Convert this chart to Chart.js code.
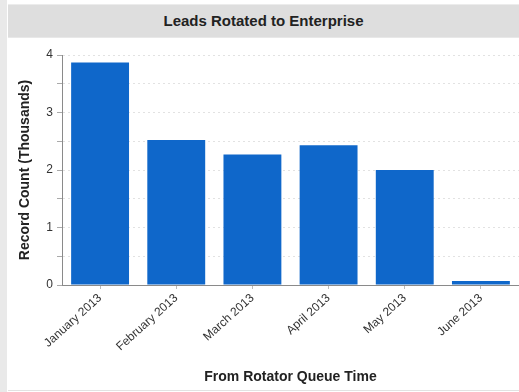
<!DOCTYPE html>
<html>
<head>
<meta charset="utf-8">
<script src="https://cdn.jsdelivr.net/npm/chart.js@4"></script>
<style>
  html, body { margin: 0; padding: 0; background: #fff; }
  body { width: 519px; height: 392px; position: relative; overflow: hidden; font-family: "Liberation Sans", Arial, sans-serif; }
  .side { position: absolute; left: 0; top: 0; width: 7px; height: 392px; background: #e9e9e9; }
  .panel { position: absolute; left: 8px; top: 4px; width: 511px; height: 386px; background: #fff; border-bottom: 1px solid #e2e2e2; }
  .head { height: 32px; background: #dedede; border-top: 1px solid #ececec; border-bottom: 1px solid #e8e8e8;
          text-align: center; line-height: 32px; font-weight: bold; font-size: 15px; color: #222; }
  .wrap { position: absolute; left: 0; top: 33px; width: 511px; height: 353px; }
</style>
</head>
<body>
<div class="side"></div>
<div class="panel">
  <div class="head">Leads Rotated to Enterprise</div>
  <div class="wrap"><canvas id="leadsChart"></canvas></div>
</div>
<script>
/* ---- data ---- */
const months = ['January 2013', 'February 2013', 'March 2013', 'April 2013', 'May 2013', 'June 2013'];
const recordCounts = [3.87, 2.52, 2.27, 2.43, 2.0, 0.07];   // thousands
const yTicks = [0, 1, 2, 3, 4];

const axisGray = '#8a8a8a';
const fontFamily = '"Liberation Sans", Arial, sans-serif';

new Chart(document.getElementById('leadsChart'), {
  type: 'bar',
  data: {
    labels: months,
    datasets: [{
      label: 'Record Count',
      data: recordCounts,
      backgroundColor: '#0f67ca',
      borderWidth: 0,
      barPercentage: 0.76,
      categoryPercentage: 1.0,
    }]
  },
  options: {
    responsive: true, maintainAspectRatio: false,
    animation: false,
    layout: { padding: { top: 18, right: 0, left: 0, bottom: 4 } },
    plugins: { legend: { display: false }, tooltip: { enabled: false } },
    scales: {
      x: {
        grid: { display: true, drawOnChartArea: false, offset: false, tickLength: 4, tickColor: '#bbb' },
        border: { color: axisGray },
        ticks: {
          minRotation: 42, maxRotation: 42, padding: 2, autoSkip: false,
          color: '#333', font: { family: fontFamily, size: 12 }
        },
        title: {
          display: true, text: 'From Rotator Queue Time', color: '#222',
          font: { family: fontFamily, size: 14, weight: 'bold' }, padding: { top: 2, bottom: 0 }
        },
        afterFit: (scale) => { scale.height = 101; }
      },
      y: {
        min: 0, max: 4,
        grid: {
          color: (ctx) => ctx.tick && ctx.tick.value === 0 ? 'rgba(0,0,0,0)' : '#e2e2e2',
          tickLength: 5, tickColor: '#aaa', tickBorderDash: []
        },
        border: { color: axisGray, dash: [2, 3] },
        ticks: {
          stepSize: 0.5, padding: 4, color: '#333', font: { family: fontFamily, size: 12 },
          callback: (v) => yTicks.includes(v) ? String(v) : ''
        },
        title: {
          display: true, text: 'Record Count (Thousands)', color: '#222',
          font: { family: fontFamily, size: 14, weight: 'bold' }, padding: { top: 9, bottom: 2 }
        },
        afterFit: (scale) => { scale.width = 54; }
      }
    }
  }
});
</script>
</body>
</html>
